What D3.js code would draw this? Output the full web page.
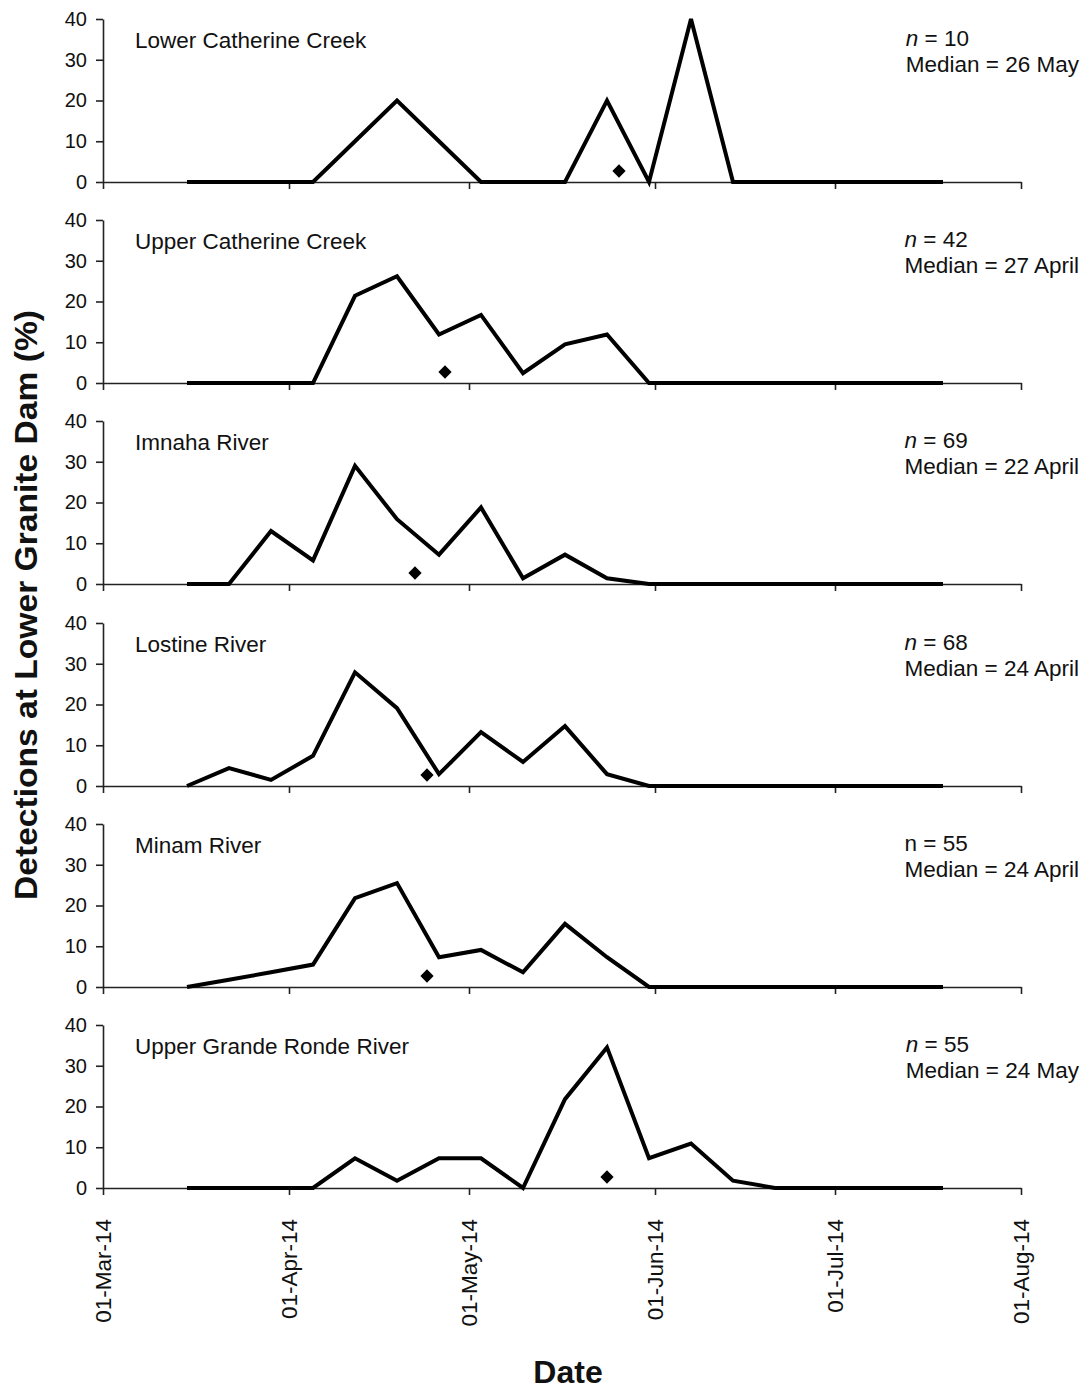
<!DOCTYPE html>
<html>
<head>
<meta charset="utf-8">
<script src="https://cdn.jsdelivr.net/npm/d3@7"></script>
<style>
  body { margin: 0; background: #fff; }
  svg text { font-family: "Liberation Sans", Arial, sans-serif; fill: #111; }
</style>
</head>
<body>
<svg id="chart" width="1086" height="1389"></svg>
<script>
////////////////////
//     DATA      ///
////////////////////

// weekly detection dates (Saturdays), 15-Mar-14 .. 19-Jul-14
var weekStarts = ["2014-03-15","2014-03-22","2014-03-29","2014-04-05","2014-04-12","2014-04-19",
                  "2014-04-26","2014-05-03","2014-05-10","2014-05-17","2014-05-24","2014-05-31",
                  "2014-06-07","2014-06-14","2014-06-21","2014-06-28","2014-07-05","2014-07-12","2014-07-19"];

var sites = ["Lower Catherine Creek", "Upper Catherine Creek", "Imnaha River",
             "Lostine River", "Minam River", "Upper Grande Ronde River"];

var lowerCatherine = [0, 0, 0, 0, 10, 20, 10, 0, 0, 0, 20, 0, 40, 0, 0, 0, 0, 0, 0];
var upperCatherine = [0, 0, 0, 0, 21.4, 26.2, 11.9, 16.7, 2.4, 9.5, 11.9, 0, 0, 0, 0, 0, 0, 0, 0];
var imnaha         = [0, 0, 13.0, 5.8, 29.0, 15.9, 7.2, 18.8, 1.4, 7.2, 1.4, 0, 0, 0, 0, 0, 0, 0, 0];
var lostine        = [0, 4.4, 1.5, 7.4, 27.9, 19.1, 2.9, 13.2, 5.9, 14.7, 2.9, 0, 0, 0, 0, 0, 0, 0, 0];
var minam          = [0, 1.8, 3.6, 5.5, 21.8, 25.5, 7.3, 9.1, 3.6, 15.5, 7.3, 0, 0, 0, 0, 0, 0, 0, 0];
var upperGrande    = [0, 0, 0, 0, 7.3, 1.8, 7.3, 7.3, 0, 21.8, 34.5, 7.3, 10.9, 1.8, 0, 0, 0, 0, 0];

var seriesValues = [lowerCatherine, upperCatherine, imnaha, lostine, minam, upperGrande];

// sample sizes and median passage dates
var sampleN      = [10, 42, 69, 68, 55, 55];
var nItalic      = [true, true, true, true, false, true];
var medianLabels = ["26 May", "27 April", "22 April", "24 April", "24 April", "24 May"];
var medianDates  = ["2014-05-26", "2014-04-27", "2014-04-22", "2014-04-24", "2014-04-24", "2014-05-24"];
var medianMarkY  = 2.7;

var xTicks  = ["2014-03-01","2014-04-01","2014-05-01","2014-06-01","2014-07-01","2014-08-01"];
var yTicks  = [0, 10, 20, 30, 40];

////////////////////
//    LAYOUT     ///
////////////////////
var left = 103, right = 1021;
var panelTop = 19, panelH = 163, panelStep = 201.2;

var parse = d3.utcParse("%Y-%m-%d");
var fmt = d3.utcFormat("%d-%b-%y");

var svg = d3.select("#chart");

var x = d3.scaleUtc()
  .domain([parse(xTicks[0]), parse(xTicks[xTicks.length - 1])])
  .range([left, right]);

var line = d3.line()
  .x(function(d) { return x(d.date); })
  .y(function(d) { return d.y; });

sites.forEach(function(site, i) {
  var top = Math.round(panelTop + i * panelStep);
  var y = d3.scaleLinear().domain([0, 40]).range([top + panelH, top]);
  var g = svg.append("g").attr("class", "panel");

  // y axis
  var ya = g.append("g")
    .attr("transform", "translate(" + left + ",0)")
    .call(d3.axisLeft(y).tickValues(yTicks).tickSize(7).tickSizeOuter(0).tickPadding(9));
  ya.selectAll("text").style("font-size", "20px");

  // x axis
  var xa = g.append("g")
    .attr("transform", "translate(0," + y(0) + ")")
    .call(d3.axisBottom(x).tickValues(xTicks.map(parse)).tickSize(7).tickSizeOuter(0).tickFormat(fmt));
  if (i < sites.length - 1) {
    xa.selectAll("text").remove();
  } else {
    xa.selectAll("text")
      .style("font-size", "22.5px")
      .attr("text-anchor", "end")
      .attr("dy", "0.35em")
      .attr("transform", "translate(0,31) rotate(-90)")
      .attr("x", 0).attr("y", 0);
  }
  g.selectAll(".domain, .tick line").attr("stroke", "#222").attr("stroke-width", 1.6);

  // detection line
  var pts = weekStarts.map(function(d, k) {
    return { date: parse(d), y: y(seriesValues[i][k]) };
  });
  g.append("path")
    .datum(pts)
    .attr("fill", "none")
    .attr("stroke", "#000")
    .attr("stroke-width", 4)
    .attr("stroke-linejoin", "miter")
    .attr("d", line);

  // median marker
  g.append("path")
    .attr("d", d3.symbol().type(d3.symbolSquare).size(88)())
    .attr("transform", "translate(" + x(parse(medianDates[i])) + "," + y(medianMarkY) + ") rotate(45)")
    .attr("fill", "#000");

  // site title
  g.append("text")
    .attr("x", 135).attr("y", top + 29)
    .style("font-size", "22.5px")
    .text(site);

  // n and median text, left-aligned block ending near right edge
  var med = g.append("text")
    .attr("y", top + 53)
    .style("font-size", "22.5px")
    .text("Median = " + medianLabels[i]);
  var wMed = med.node().getComputedTextLength();
  var bx = 1079 - wMed;
  med.attr("x", bx);

  var nt = g.append("text")
    .attr("x", bx).attr("y", top + 27)
    .style("font-size", "22.5px");
  nt.append("tspan").style("font-style", nItalic[i] ? "italic" : "normal").text("n");
  nt.append("tspan").text(" = " + sampleN[i]);
});

// axis titles
svg.append("text")
  .attr("transform", "translate(37,605) rotate(-90)")
  .attr("text-anchor", "middle")
  .attr("textLength", 590)
  .attr("lengthAdjust", "spacingAndGlyphs")
  .style("font-size", "32px")
  .style("font-weight", "bold")
  .text("Detections at Lower Granite Dam (%)");

svg.append("text")
  .attr("x", 568).attr("y", 1383)
  .attr("text-anchor", "middle")
  .style("font-size", "32px")
  .style("font-weight", "bold")
  .text("Date");
</script>
</body>
</html>
